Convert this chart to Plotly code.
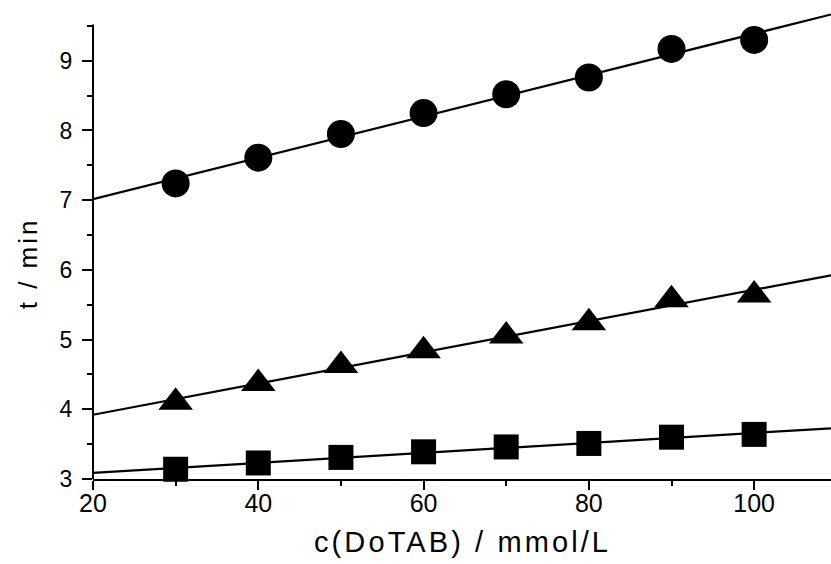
import numpy as np
import plotly.graph_objects as go

# Surfactant concentration c(DoTAB), mmol/L
conc = [30, 40, 50, 60, 70, 80, 90, 100]

# Retention / elution times (min) for the three analytes
t_circle = [7.24, 7.61, 7.95, 8.25, 8.52, 8.76, 9.17, 9.30]
t_triangle = [4.10, 4.37, 4.63, 4.84, 5.05, 5.24, 5.57, 5.64]
t_square = [3.14, 3.23, 3.31, 3.39, 3.46, 3.51, 3.60, 3.64]

x_range = [20, 109.3]
y_range = [3, 9.7]
y_axis_top = 9.52

x_tick_vals = [20, 40, 60, 80, 100]
y_tick_vals = [3, 4, 5, 6, 7, 8, 9]

FONT = "Liberation Sans, Arial, sans-serif"

fig = go.Figure()

series = [
    (t_circle, "circle", 28),
    (t_triangle, "triangle-up", 30),
    (t_square, "square", 25),
]

fit_x = np.array(x_range)
for values, symbol, size in series:
    slope, intercept = np.polyfit(conc, values, 1)
    fig.add_trace(go.Scatter(
        x=fit_x, y=slope * fit_x + intercept, mode="lines",
        line=dict(color="black", width=2.2), showlegend=False, hoverinfo="skip",
    ))
    fig.add_trace(go.Scatter(
        x=conc, y=values, mode="markers",
        marker=dict(symbol=symbol, size=size, color="black", line=dict(width=0)),
        showlegend=False, cliponaxis=False,
    ))

# Left axis line stops just above the 9.5 minor tick
fig.add_shape(type="line", xref="paper", yref="y", x0=0, x1=0,
              y0=y_range[0], y1=y_axis_top, line=dict(color="black", width=2))

fig.update_xaxes(
    range=x_range, showgrid=False, zeroline=False,
    showline=True, linecolor="black", linewidth=2,
    ticks="outside", ticklen=9, tickwidth=2, tickcolor="black",
    tickvals=x_tick_vals, ticklabelstandoff=-8,
    tickfont=dict(family=FONT, size=25, color="black"),
    minor=dict(ticks="outside", ticklen=5, tickwidth=2, tickcolor="black",
               tick0=20, dtick=10),
)
fig.update_yaxes(
    range=y_range, showgrid=False, zeroline=False, showline=False,
    ticks="outside", ticklen=10, tickwidth=2, tickcolor="black",
    tickvals=y_tick_vals, ticklabelstandoff=5,
    tickfont=dict(family=FONT, size=23, color="black"),
    minor=dict(ticks="outside", ticklen=5, tickwidth=2, tickcolor="black",
               tick0=3, dtick=0.5),
)

fig.add_annotation(
    text='<span style="letter-spacing:3.1px">c(DoTAB) / mmol/L</span>',
    xref="paper", yref="paper", x=0.5, y=-0.135,
    xanchor="center", yanchor="middle", showarrow=False,
    font=dict(family=FONT, size=29, color="black"),
)
fig.add_annotation(
    text='<span style="letter-spacing:3px">t / min</span>',
    xref="paper", yref="paper", x=-0.088, y=0.462, textangle=-90,
    xanchor="center", yanchor="middle", showarrow=False,
    font=dict(family=FONT, size=26, color="black"),
)

fig.update_layout(
    width=831, height=564,
    margin=dict(l=93, r=0, t=12, b=85),
    paper_bgcolor="white", plot_bgcolor="white",
)

fig.write_html("out.html")
